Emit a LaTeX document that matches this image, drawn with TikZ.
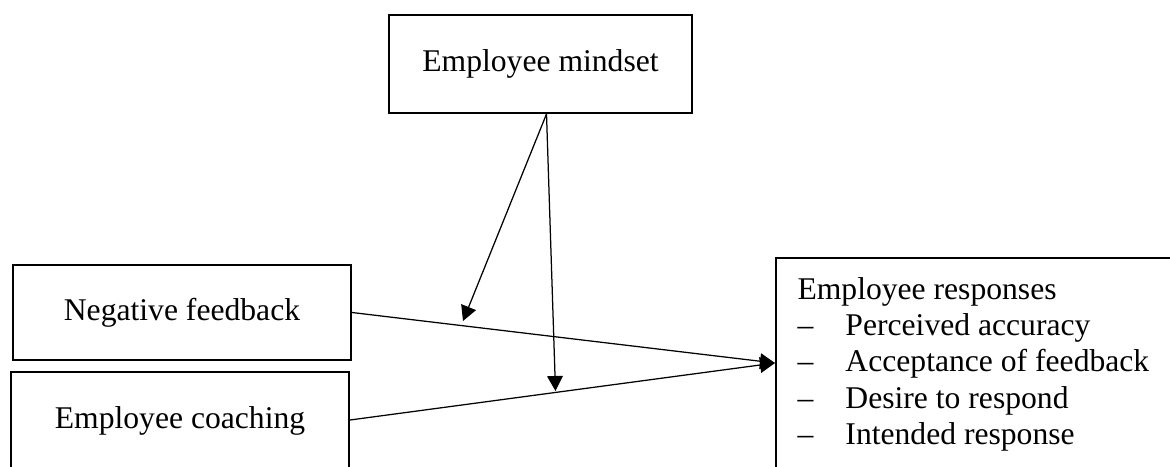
\documentclass[tikz,border=0pt]{standalone}
\usepackage{fontspec}
\setmainfont{Liberation Serif}
\usetikzlibrary{arrows.meta}
\begin{document}
\begin{tikzpicture}[x=0.4pt, y=-0.4pt,
  box/.style={draw, line width=0.8pt, inner sep=0pt},
  lbl/.style={font=\fontsize{12.65}{14.5}\selectfont},
  link/.style={line width=0.5pt, -{Triangle[length=6pt, width=6.3pt]}}]
  \useasboundingbox (0,0) rectangle (1170,466);
  \clip (0,0) rectangle (1170,466);

  % boxes
  \node[box, minimum width=303*0.4pt, minimum height=98*0.4pt] (ms) at (540.5,64) {};
  \node[lbl] (mstext) at (540.5,64) {Employee mindset};

  \node[box, minimum width=338*0.4pt, minimum height=95*0.4pt] (nf) at (182,312.5) {};
  \node[lbl] (nftext) at (182,313) {Negative feedback};

  \node[box, minimum width=338*0.4pt, minimum height=96*0.4pt] (ec) at (180,420) {};
  \node[lbl] (ectext) at (180,421) {Employee coaching};

  \node[box, minimum width=420*0.4pt, minimum height=210*0.4pt] (resp) at (986,363) {};
  \node[lbl, anchor=north west, align=left, inner sep=0pt] (resptext) at (797,277)
    {Employee responses\\
     \makebox[19.2pt][l]{–}Perceived accuracy\\
     \makebox[19.2pt][l]{–}Acceptance of feedback\\
     \makebox[19.2pt][l]{–}Desire to respond\\
     \makebox[19.2pt][l]{–}Intended response};

  % connector ends
  \coordinate (msout) at ([xshift=2.4pt]ms.south);
  \coordinate (onnf) at (463,321);
  \coordinate (onec) at (555.5,391);

  % main paths into the responses box
  \draw[link] (nf.east) -- (resp.west);
  \draw[link] (ec.east) -- (resp.west);

  % moderating arrows from mindset
  \draw[link] (msout) -- (onnf);
  \draw[link] (msout) -- (onec);
\end{tikzpicture}
\end{document}
